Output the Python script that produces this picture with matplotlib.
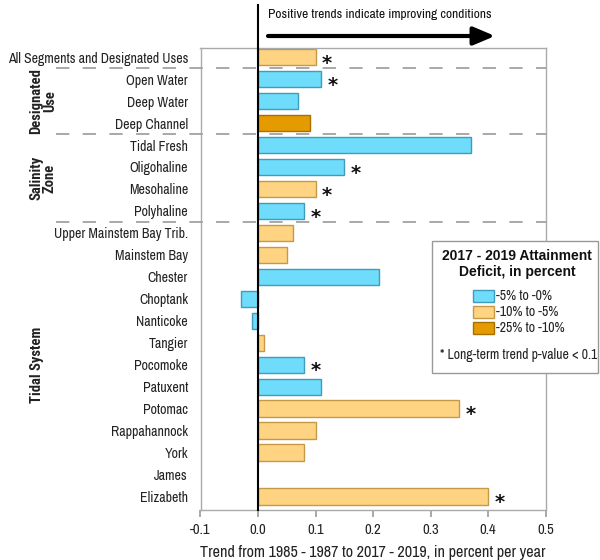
import matplotlib
matplotlib.use("Agg")
import matplotlib.pyplot as plt
import matplotlib.transforms as mtrans
from matplotlib.patches import Rectangle
from matplotlib import font_manager

ttf = font_manager.fontManager.ttflist
names = {f.name for f in ttf}
prefs = ['Liberation Sans Narrow', 'Arial Narrow', 'Archivo Narrow', 'Roboto Condensed', 'PT Sans Narrow',
         'IBM Plex Sans Condensed', 'Sofia Sans Condensed', 'Liberation Sans']
NARROW = next(p for p in prefs if p in names)


def has_bold(n):
    return any(f.name == n and (isinstance(f.weight, int) and f.weight >= 600 or f.weight in ("bold", "semibold", "heavy", "black"))
               for f in ttf)


BOLDN = next((p for p in prefs if p in names and has_bold(p)), 'Liberation Sans')
FAM = [NARROW, 'DejaVu Sans']
plt.rcParams['font.family'] = FAM

categories = ["All Segments and Designated Uses", "Open Water", "Deep Water", "Deep Channel",
              "Tidal Fresh", "Oligohaline", "Mesohaline", "Polyhaline",
              "Upper Mainstem Bay Trib.", "Mainstem Bay", "Chester", "Choptank", "Nanticoke",
              "Tangier", "Pocomoke", "Patuxent", "Potomac", "Rappahannock", "York", "James",
              "Elizabeth"]
trend = [0.10, 0.11, 0.07, 0.09,
         0.37, 0.15, 0.10, 0.08,
         0.06, 0.05, 0.21, -0.03, -0.01,
         0.01, 0.08, 0.11, 0.35, 0.10, 0.08, 0.0,
         0.40]
deficit_class = ["mid", "low", "low", "high",
                 "low", "low", "mid", "low",
                 "mid", "mid", "low", "low", "low",
                 "mid", "low", "low", "mid", "mid", "mid", None,
                 "mid"]
significant = [True, True, False, False,
               False, True, True, True,
               False, False, False, False, False,
               False, True, False, True, False, False, False,
               True]
class_labels = {"low": "-5% to -0%", "mid": "-10% to -5%", "high": "-25% to -10%"}
fills = {"low": "#6fdcfb", "mid": "#fed381", "high": "#e59b00"}
edges = {"low": "#3f9cbc", "mid": "#c49a48", "high": "#a86e00"}
groups = [("Designated\nUse", 1, 3), ("Salinity\nZone", 4, 7), ("Tidal System", 8, 20)]
separators = [0.5, 3.5, 7.5]
xticks = [-0.1, 0.0, 0.1, 0.2, 0.3, 0.4, 0.5]

W, H = 600, 560
fig = plt.figure(figsize=(6, 5.6), dpi=100)
ax = fig.add_axes([200.5 / W, 1 - 510 / H, (545.7 - 200.5) / W, (510 - 47.7) / H])

ys = list(range(len(categories)))
for y, v, c in zip(ys, trend, deficit_class):
    if c is None:
        continue
    ax.barh(y, v, height=0.74, color=fills[c], edgecolor=edges[c], linewidth=1.0, zorder=2)
for y, v, s in zip(ys, trend, significant):
    if s:
        ax.annotate("*", (v, y), xytext=(4.5, -4.5), textcoords="offset points",
                    ha="left", va="center", fontsize=14, fontweight="bold", color="#111111",
                    family=['DejaVu Sans'])

ax.set_xlim(-0.1, 0.5)
ax.set_ylim(20.615, -0.43)
ax.set_xticks(xticks)
ax.set_xticklabels([f"{t:.1f}" for t in xticks], fontsize=10.5, color="#222222")
ax.set_yticks(ys)
ax.set_yticklabels(categories, fontsize=10, color="#222222")
ax.tick_params(axis="y", length=0, pad=9)
ax.tick_params(axis="x", length=5, color="#999999", width=1.2, pad=4)
for sp in ax.spines.values():
    sp.set_color("#aaaaaa")
    sp.set_linewidth(1.0)
ax.set_xlabel("Trend from 1985 - 1987 to 2017 - 2019, in percent per year", fontsize=11.6, color="#222222", labelpad=6)

# zero line extending above axes
ax.plot([0, 0], [20.615, -0.43 - (47.7 - 5) / ((510 - 47.7) / 21.045)], color="black", lw=1.5, clip_on=False, zorder=5)

# separators
x0 = -0.1 - (200.5 - 56) / (345.2 / 0.6)
for s in separators:
    ax.plot([x0, 0.5], [s, s], color="#999999", lw=1.2, dashes=(8, 8), clip_on=False, zorder=3)

# group labels
bt = mtrans.blended_transform_factory(fig.transFigure, ax.transData)
gsize = 10.5 if BOLDN != 'Liberation Sans' else 8.5
for lab, a, b in groups:
    yc = (a + b) / 2
    xfig = 43 / W if "\n" in lab else 37 / W
    ax.text(xfig, yc, lab, transform=bt, rotation=90, ha="center", va="center", fontsize=gsize,
            fontweight="bold", color="#222222", linespacing=1.0, multialignment="center",
            family=[BOLDN, 'DejaVu Sans'])

# top annotation
fig.text(268 / W, 1 - 14 / H, "Positive trends indicate improving conditions", fontsize=9.7, ha="left", va="center", color="#111111")
ax.annotate("", xy=(495 / W, 1 - 36 / H), xytext=(268 / W, 1 - 36 / H), xycoords=fig.transFigure,
            textcoords=fig.transFigure,
            arrowprops=dict(arrowstyle="-|>,head_length=1.3,head_width=0.55", color="black", lw=3, shrinkA=0, shrinkB=0))

# legend box
lx0, ly0, lx1, ly1 = 432, 241, 598, 373
fig.patches.append(Rectangle((lx0 / W, 1 - ly1 / H), (lx1 - lx0) / W, (ly1 - ly0) / H,
                             transform=fig.transFigure, facecolor="white", edgecolor="#999999", lw=1.0, zorder=10))
fig.text(517 / W, 1 - 264 / H, "2017 - 2019 Attainment\nDeficit, in percent", ha="center", va="center",
         fontsize=10, fontweight="bold", color="#111111", linespacing=1.25, zorder=11,
         family=['Liberation Sans', 'DejaVu Sans'])
for i, k in enumerate(["low", "mid", "high"]):
    yc = 296 + 16 * i
    fig.patches.append(Rectangle((473 / W, 1 - (yc + 6) / H), 21 / W, 12 / H, transform=fig.transFigure,
                                 facecolor=fills[k], edgecolor=edges[k], lw=1.0, zorder=11))
    fig.text(496 / W, 1 - yc / H, class_labels[k], ha="left", va="center", fontsize=10, color="#222222", zorder=11)
fig.text(440 / W, 1 - 355 / H, "* Long-term trend p-value < 0.1", ha="left", va="center", fontsize=9.9, color="#222222", zorder=11)

fig.savefig("out.png", dpi=100)
